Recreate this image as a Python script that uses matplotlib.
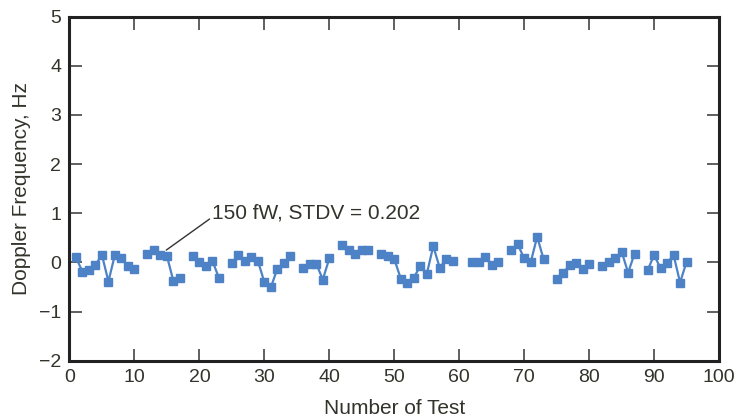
import numpy as np
import matplotlib
matplotlib.use("Agg")
import matplotlib.pyplot as plt

plt.rcParams['font.family'] = ['Liberation Sans', 'DejaVu Sans']

# test number and doppler frequency (NaN = missing test, breaks the line)
test_number = np.arange(1, 96)
doppler = [
    0.10, -0.19, -0.16, -0.05, 0.15, -0.39, 0.16, 0.09, -0.08, -0.14,   # 1-10
    np.nan, 0.17, 0.26, 0.16, 0.13, -0.38, -0.31, np.nan, 0.13, 0.01,   # 11-20
    -0.08, 0.03, -0.31, np.nan, -0.02, 0.15, 0.03, 0.11, 0.03, -0.40,   # 21-30
    -0.51, -0.13, -0.02, 0.13, np.nan, -0.12, -0.03, -0.03, -0.35, 0.08,  # 31-40
    np.nan, 0.35, 0.26, 0.18, 0.25, 0.25, np.nan, 0.17, 0.12, 0.07,    # 41-50
    -0.33, -0.41, -0.31, -0.08, -0.24, 0.33, -0.11, 0.07, 0.03, np.nan,  # 51-60
    np.nan, 0.0, 0.0, 0.11, -0.05, 0.0, np.nan, 0.25, 0.37, 0.08,      # 61-70
    0.0, 0.52, 0.06, np.nan, -0.33, -0.22, -0.05, -0.01, -0.14, -0.04,  # 71-80
    np.nan, -0.07, 0.0, 0.08, 0.22, -0.21, 0.18, np.nan, -0.16, 0.15,   # 81-90
    -0.12, -0.02, 0.15, -0.41, 0.01,                                    # 91-95
]

annot_text = "150 fW, STDV = 0.202"
text_col = "#33332b"

fig = plt.figure(figsize=(7.39, 4.16), dpi=100)
ax = fig.add_axes([0.094, 0.133, 0.879, 0.827])

ax.plot(test_number, doppler, color="#4d83c6", lw=1.6, marker="s",
        markersize=5.2, clip_on=False, zorder=3)

ax.set_xlim(0, 100)
ax.set_ylim(-2, 5)
ax.set_xticks(np.arange(0, 101, 10))
ax.set_yticks(np.arange(-2, 6, 1))
ax.set_yticklabels(["\u22122", "\u22121", "0", "1", "2", "3", "4", "5"])

ax.tick_params(direction="in", length=9, width=1.2, top=True, right=True,
               labelsize=14, labelcolor=text_col, color="#444444", pad=6)
for s in ax.spines.values():
    s.set_linewidth(2.2)
    s.set_color("#222222")

ax.set_xlabel("Number of Test", fontsize=15, color=text_col, labelpad=9)
ax.set_ylabel("Doppler Frequency, Hz", fontsize=15, color=text_col, labelpad=6)

ax.annotate(annot_text, xy=(14.9, 0.25), xytext=(22.0, 1.0),
            fontsize=15, color=text_col, va="center", ha="left",
            arrowprops=dict(arrowstyle="-", color="#333333", lw=1,
                            shrinkA=0, shrinkB=0, relpos=(0, 0.3)))

fig.savefig("out.png", dpi=100)
